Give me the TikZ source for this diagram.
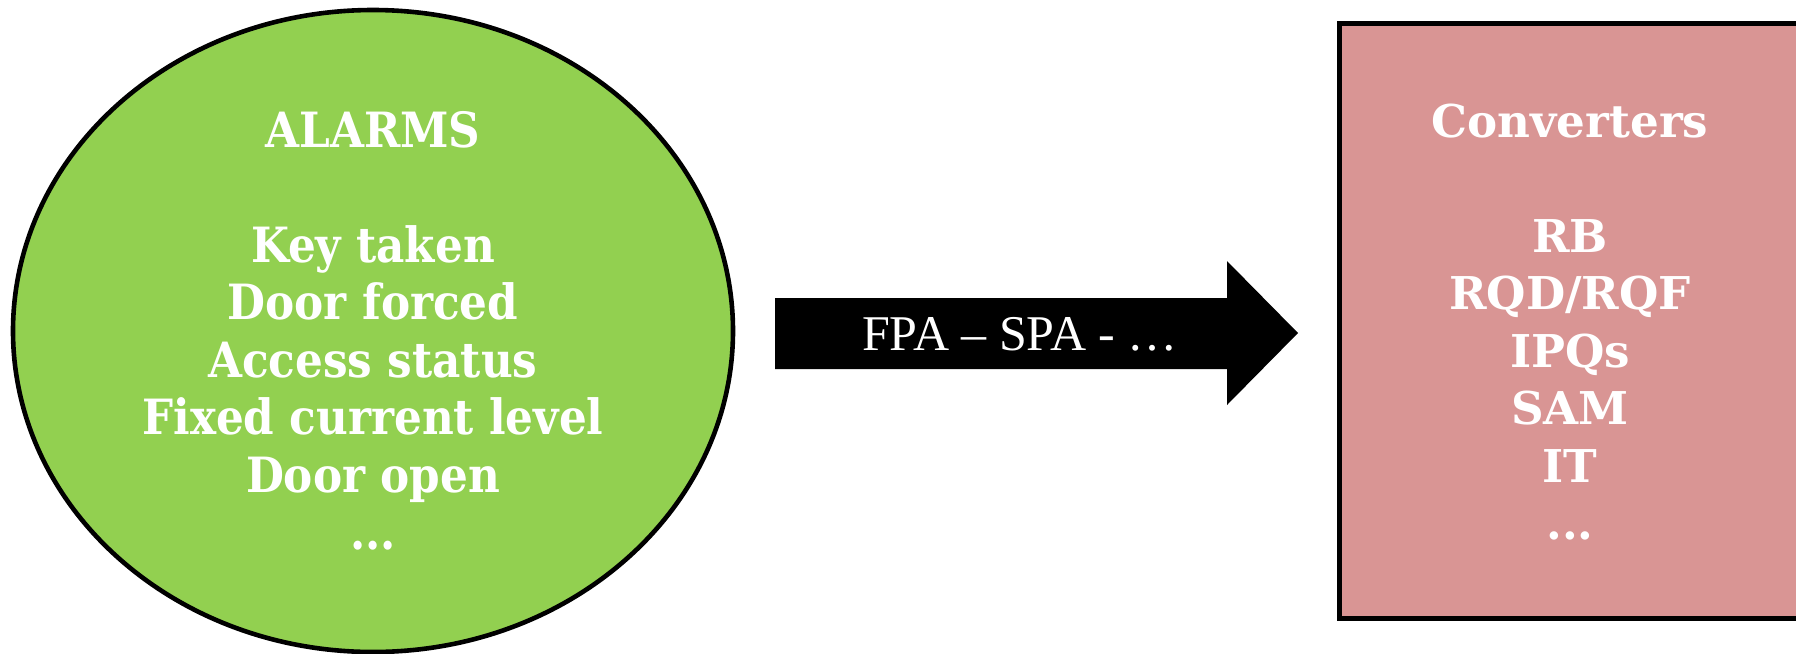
\documentclass[tikz,border=0pt]{standalone}
\usepackage{fontspec}
\setmainfont{Liberation Serif}
\newfontfamily\alfont{DejaVu Serif Condensed}
\newfontfamily\cvfont{DejaVu Serif}
\usetikzlibrary{shapes.geometric}
\definecolor{algreen}{HTML}{92D050}
\definecolor{cvpink}{HTML}{D99594}
\tikzset{
  alarmnode/.style={ellipse, draw=black, line width=2.3pt, fill=algreen, inner sep=0pt,
    minimum width=360pt, minimum height=321pt, text=white, align=center,
    font=\alfont\bfseries\fontsize{24.3}{28.75}\selectfont},
  convbox/.style={draw=black, line width=2.3pt, fill=cvpink},
  convtext/.style={text=white, align=center, inner sep=0pt,
    font=\cvfont\bfseries\fontsize{22.6}{28.75}\selectfont},
  bigarrow/.style={fill=black},
  arrowtext/.style={text=white, inner sep=0pt, font=\fontsize{25}{28}\selectfont}
}
\begin{document}
\begin{tikzpicture}[x=0.5pt,y=-0.5pt]
\clip (0,0) rectangle (1796,654);
\fill[white] (0,0) rectangle (1796,654);
% left ellipse
\node[alarmnode] (alarms) at (373,331) {ALARMS\\[28.75pt]Key taken\\Door forced\\Access status\\Fixed current level\\Door open\\...};
% right box (clipped at the right edge)
\node[convbox, minimum width=233pt, minimum height=297.5pt, inner sep=0pt, anchor=north west] (convbox) at (1337,21) {};
\node[convtext] (convlabel) at (1570,322) {Converters\\[28.75pt]RB\\RQD/RQF\\IPQs\\SAM\\IT\\...};
% block arrow
\coordinate (a1) at (775,298);
\coordinate (a2) at (1227,298);
\coordinate (a3) at (1227,261);
\coordinate (a4) at (1298,333);
\coordinate (a5) at (1227,405);
\coordinate (a6) at (1227,369);
\coordinate (a7) at (775,369);
\fill[bigarrow] (a1) -- (a2) -- (a3) -- (a4) -- (a5) -- (a6) -- (a7) -- cycle;
\node[arrowtext] (flow) at (1020,334) {FPA – SPA - …};
\end{tikzpicture}
\end{document}
